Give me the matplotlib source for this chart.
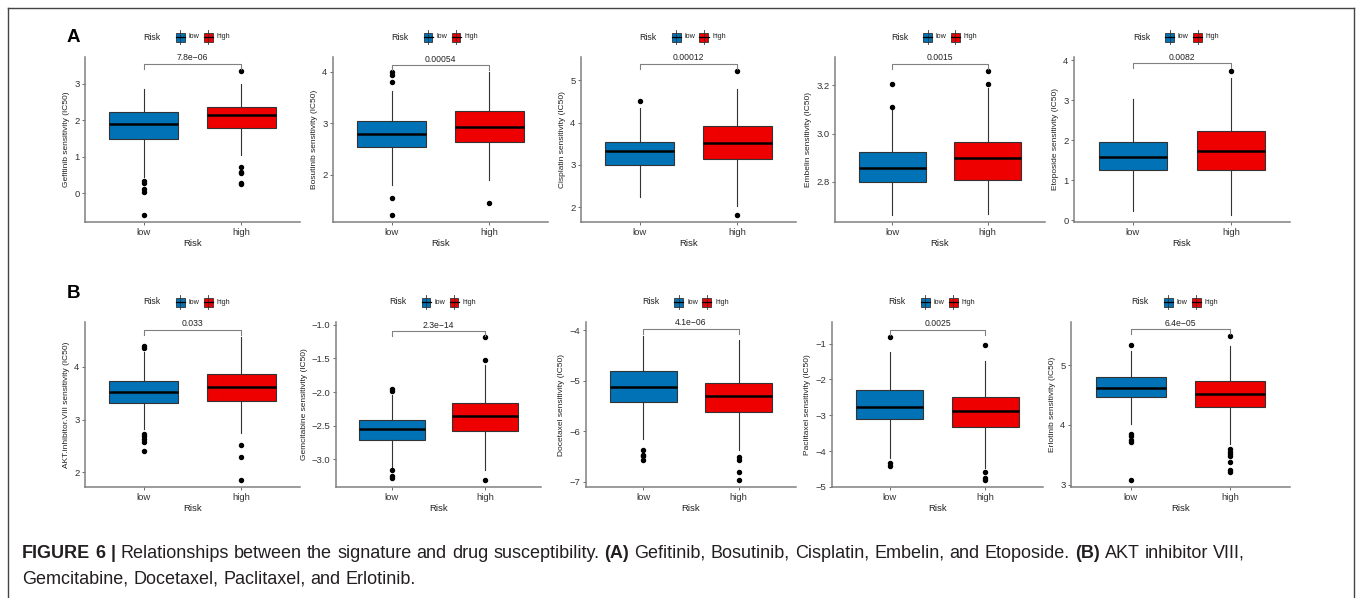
import numpy as np
import matplotlib
matplotlib.use('Agg')
import matplotlib.pyplot as plt
from matplotlib.patches import Rectangle
from matplotlib.lines import Line2D

plt.rcParams['font.family'] = ['Liberation Sans', 'DejaVu Sans']

# ==========================================
# DATA
# ==========================================
drugs = ['Gefitinib', 'Bosutinib', 'Cisplatin', 'Embelin', 'Etoposide',
         'AKT.inhibitor.VIII', 'Gemcitabine', 'Docetaxel', 'Paclitaxel', 'Erlotinib']
groups = ['low', 'high']

# [whisker low, q1, median, q3, whisker high]
low_box = [
    [0.45, 1.50, 1.90, 2.22, 2.85],
    [1.80, 2.545, 2.80, 3.05, 3.63],
    [2.23, 3.00, 3.33, 3.55, 4.35],
    [2.662, 2.800, 2.858, 2.924, 3.097],
    [0.23, 1.25, 1.58, 1.97, 3.02],
    [2.82, 3.32, 3.53, 3.74, 4.28],
    [-3.11, -2.71, -2.55, -2.42, -2.05],
    [-6.16, -5.43, -5.12, -4.80, -4.12],
    [-4.18, -3.10, -2.77, -2.30, -1.25],
    [4.01, 4.47, 4.62, 4.795, 5.24],
]
high_box = [
    [1.05, 1.78, 2.14, 2.37, 3.00],
    [1.90, 2.64, 2.93, 3.24, 3.99],
    [2.03, 3.13, 3.52, 3.91, 4.80],
    [2.669, 2.807, 2.897, 2.967, 3.19],
    [0.125, 1.27, 1.73, 2.225, 3.56],
    [2.75, 3.35, 3.62, 3.87, 4.57],
    [-3.16, -2.585, -2.36, -2.16, -1.60],
    [-6.37, -5.625, -5.30, -5.04, -4.20],
    [-4.48, -3.33, -2.88, -2.50, -1.48],
    [3.68, 4.30, 4.51, 4.73, 5.32],
]
low_out = [
    [0.35, 0.29, 0.12, 0.03, -0.59],
    [3.99, 3.94, 3.81, 1.55, 1.22],
    [4.51],
    [3.204, 3.11],
    [],
    [4.40, 4.36, 2.72, 2.68, 2.63, 2.58, 2.40],
    [-1.95, -1.98, -3.16, -3.24, -3.28],
    [-6.37, -6.47, -6.49, -6.58],
    [-0.81, -4.34, -4.41],
    [5.34, 3.85, 3.81, 3.74, 3.71, 3.08],
]
high_out = [
    [3.35, 0.73, 0.59, 0.55, 0.29, 0.25],
    [1.44],
    [5.23, 1.81],
    [3.26, 3.205],
    [3.74],
    [2.51, 2.29, 1.86],
    [-1.19, -1.53, -3.30],
    [-6.51, -6.57, -6.81, -6.96],
    [-1.04, -4.57, -4.76, -4.80],
    [5.48, 3.60, 3.55, 3.51, 3.48, 3.38, 3.25, 3.21],
]
pvals = ['7.8e\u221206', '0.00054', '0.00012', '0.0015', '0.0082',
         '0.033', '2.3e\u221214', '4.1e\u221206', '0.0025', '6.4e\u221205']
bracket_y = [3.55, 4.13, 5.39, 3.29, 3.92, 4.70, -1.10, -3.97, -0.61, 5.60]
ylims = [(-0.78, 3.73), (1.08, 4.29), (1.65, 5.55), (2.634, 3.317), (-0.04, 4.08),
         (1.72, 4.85), (-3.41, -0.96), (-7.105, -3.84), (-4.98, -0.40), (2.96, 5.72)]
yticks = [[0, 1, 2, 3], [2, 3, 4], [2, 3, 4, 5], [2.8, 3.0, 3.2], [0, 1, 2, 3, 4],
          [2, 3, 4], [-3.0, -2.5, -2.0, -1.5, -1.0], [-7, -6, -5, -4],
          [-5, -4, -3, -2, -1], [3, 4, 5]]
ytick_fmt = ['{:g}', '{:g}', '{:g}', '{:.1f}', '{:g}', '{:g}', '{:.1f}', '{:g}', '{:g}', '{:g}']

caption_1 = [('FIGURE 6 |', True),
             ('Relationships between the signature and drug susceptibility.', False),
             ('(A)', True),
             ('Gefitinib, Bosutinib, Cisplatin, Embelin, and Etoposide.', False),
             ('(B)', True),
             ('AKT inhibitor VIII,', False)]
caption_2 = [('Gemcitabine, Docetaxel, Paclitaxel, and Erlotinib.', False)]

# ==========================================
# LAYOUT (pixels in a 1360x598 canvas)
# ==========================================
W, H = 1360, 598
col_lr = [[(85, 300), (333, 548), (581, 796), (835, 1045), (1074, 1290)],
          [(85, 300), (336, 541), (586, 796), (832, 1043), (1071, 1290)]]
row_tb = [(57, 222), (322, 487)]
legend_y = [37, 302]
colors = ['#0072B5', '#EE0000']
edge = '#333333'

fig = plt.figure(figsize=(W / 100, H / 100), dpi=100)


def fx(px):
    return px / W


def fy(py):
    return 1 - py / H


def draw_legend(cx, cy):
    # Risk [box] low [box] high
    x0 = cx - 44
    fig.text(fx(x0), fy(cy), 'Risk', fontsize=6.3, va='center', ha='left', color='#222222')
    keys = [(x0 + 32, 'low'), (x0 + 60, 'high')]
    for (kx, lab), c in zip(keys, colors):
        fig.add_artist(Line2D([fx(kx + 4.5)] * 2, [fy(cy - 7), fy(cy + 7)],
                              transform=fig.transFigure, color=edge, lw=0.6))
        fig.add_artist(Rectangle((fx(kx), fy(cy + 4.5)), fx(9), 9 / H,
                                 transform=fig.transFigure, facecolor=c,
                                 edgecolor=edge, lw=0.6))
        fig.add_artist(Line2D([fx(kx), fx(kx + 9)], [fy(cy)] * 2,
                              transform=fig.transFigure, color='black', lw=0.9))
        fig.text(fx(kx + 13), fy(cy), lab, fontsize=5.2, va='center', ha='left', color='#222222')


for i, drug in enumerate(drugs):
    row, col = divmod(i, 5)
    l, r = col_lr[row][col]
    t, b = row_tb[row]
    ax = fig.add_axes([fx(l), fy(b), fx(r - l), (b - t) / H])

    stats = []
    for box, out, lab in [(low_box[i], low_out[i], 'low'), (high_box[i], high_out[i], 'high')]:
        stats.append(dict(whislo=box[0], q1=box[1], med=box[2], q3=box[3],
                          whishi=box[4], fliers=out, label=lab))
    bp = ax.bxp(stats, positions=[1, 2], widths=0.7, patch_artist=True,
                showcaps=False,
                boxprops=dict(edgecolor=edge, linewidth=0.8),
                whiskerprops=dict(color=edge, linewidth=0.8),
                medianprops=dict(color='black', linewidth=1.8),
                flierprops=dict(marker='o', markerfacecolor='black',
                                markeredgecolor='black', markersize=2.9))
    for patch, c in zip(bp['boxes'], colors):
        patch.set_facecolor(c)

    ax.set_xlim(0.4, 2.6)
    ax.set_ylim(*ylims[i])
    ax.set_yticks(yticks[i])
    ax.set_yticklabels([ytick_fmt[i].format(v).replace('-', '\u2212') for v in yticks[i]])
    ax.set_xticks([1, 2])
    ax.set_xticklabels(groups)

    for s in ['top', 'right']:
        ax.spines[s].set_visible(False)
    for s in ['left', 'bottom']:
        ax.spines[s].set_color('#808080')
        ax.spines[s].set_linewidth(1.1)
    ax.tick_params(axis='both', length=2.5, width=0.6, color='#555555',
                   labelcolor='#333333', labelsize=6.8, pad=1.5)
    ax.set_xlabel('Risk', fontsize=6.8, labelpad=1.5, color='#222222')
    ax.set_ylabel(f'{drug} sensitivity (IC50)', fontsize=6.0, labelpad=3, color='#222222')

    # bracket + p value
    yr = ylims[i][1] - ylims[i][0]
    dy = 5 / (b - t) * yr
    by = bracket_y[i]
    ax.plot([1, 1, 2, 2], [by - dy, by, by, by - dy], color='#808080', lw=0.8,
            clip_on=False)
    ax.text(1.5, by + 0.01 * yr, pvals[i], ha='center', va='bottom',
            fontsize=6.2, color='#222222')

    draw_legend((l + r) / 2 - 5, legend_y[row])

# panel letters
fig.text(fx(73), fy(37), 'A', fontsize=13.5, fontweight='bold', ha='center', va='center')
fig.text(fx(73), fy(294), 'B', fontsize=13.5, fontweight='bold', ha='center', va='center')

# frame around figure (open at the bottom)
for xs, ys in [((8, 1354), (8, 8)), ((8, 8), (8, 598)), ((1354, 1354), (8, 598))]:
    fig.add_artist(Line2D([fx(v) for v in xs], [fy(v) for v in ys],
                          transform=fig.transFigure, color='#444444', lw=1.0))

# caption: word by word, first line justified
renderer = fig.canvas.get_renderer()


def caption_line(x, y, parts, right=None, size=13):
    words = [(w, bold) for txt, bold in parts for w in txt.split(' ')]
    arts = []
    for w, bold in words:
        tt = fig.text(fx(x), fy(y), w, fontsize=size, color='#231F20',
                      fontweight='bold' if bold else 'normal', va='baseline', ha='left')
        arts.append((tt, tt.get_window_extent(renderer=renderer).width))
    probe = fig.text(0, 0, 'a a', fontsize=size)
    space = probe.get_window_extent(renderer=renderer).width
    probe.remove()
    probe = fig.text(0, 0, 'aa', fontsize=size)
    space -= probe.get_window_extent(renderer=renderer).width
    probe.remove()
    gap = space
    if right is not None and len(arts) > 1:
        total = sum(wd for _, wd in arts)
        gap = (right - x - total) / (len(arts) - 1)
    for tt, wd in arts:
        tt.set_x(fx(x))
        x += wd + gap


caption_line(22, 558, caption_1, right=1245)
caption_line(22, 584, caption_2)

fig.savefig('out.png', dpi=100)
